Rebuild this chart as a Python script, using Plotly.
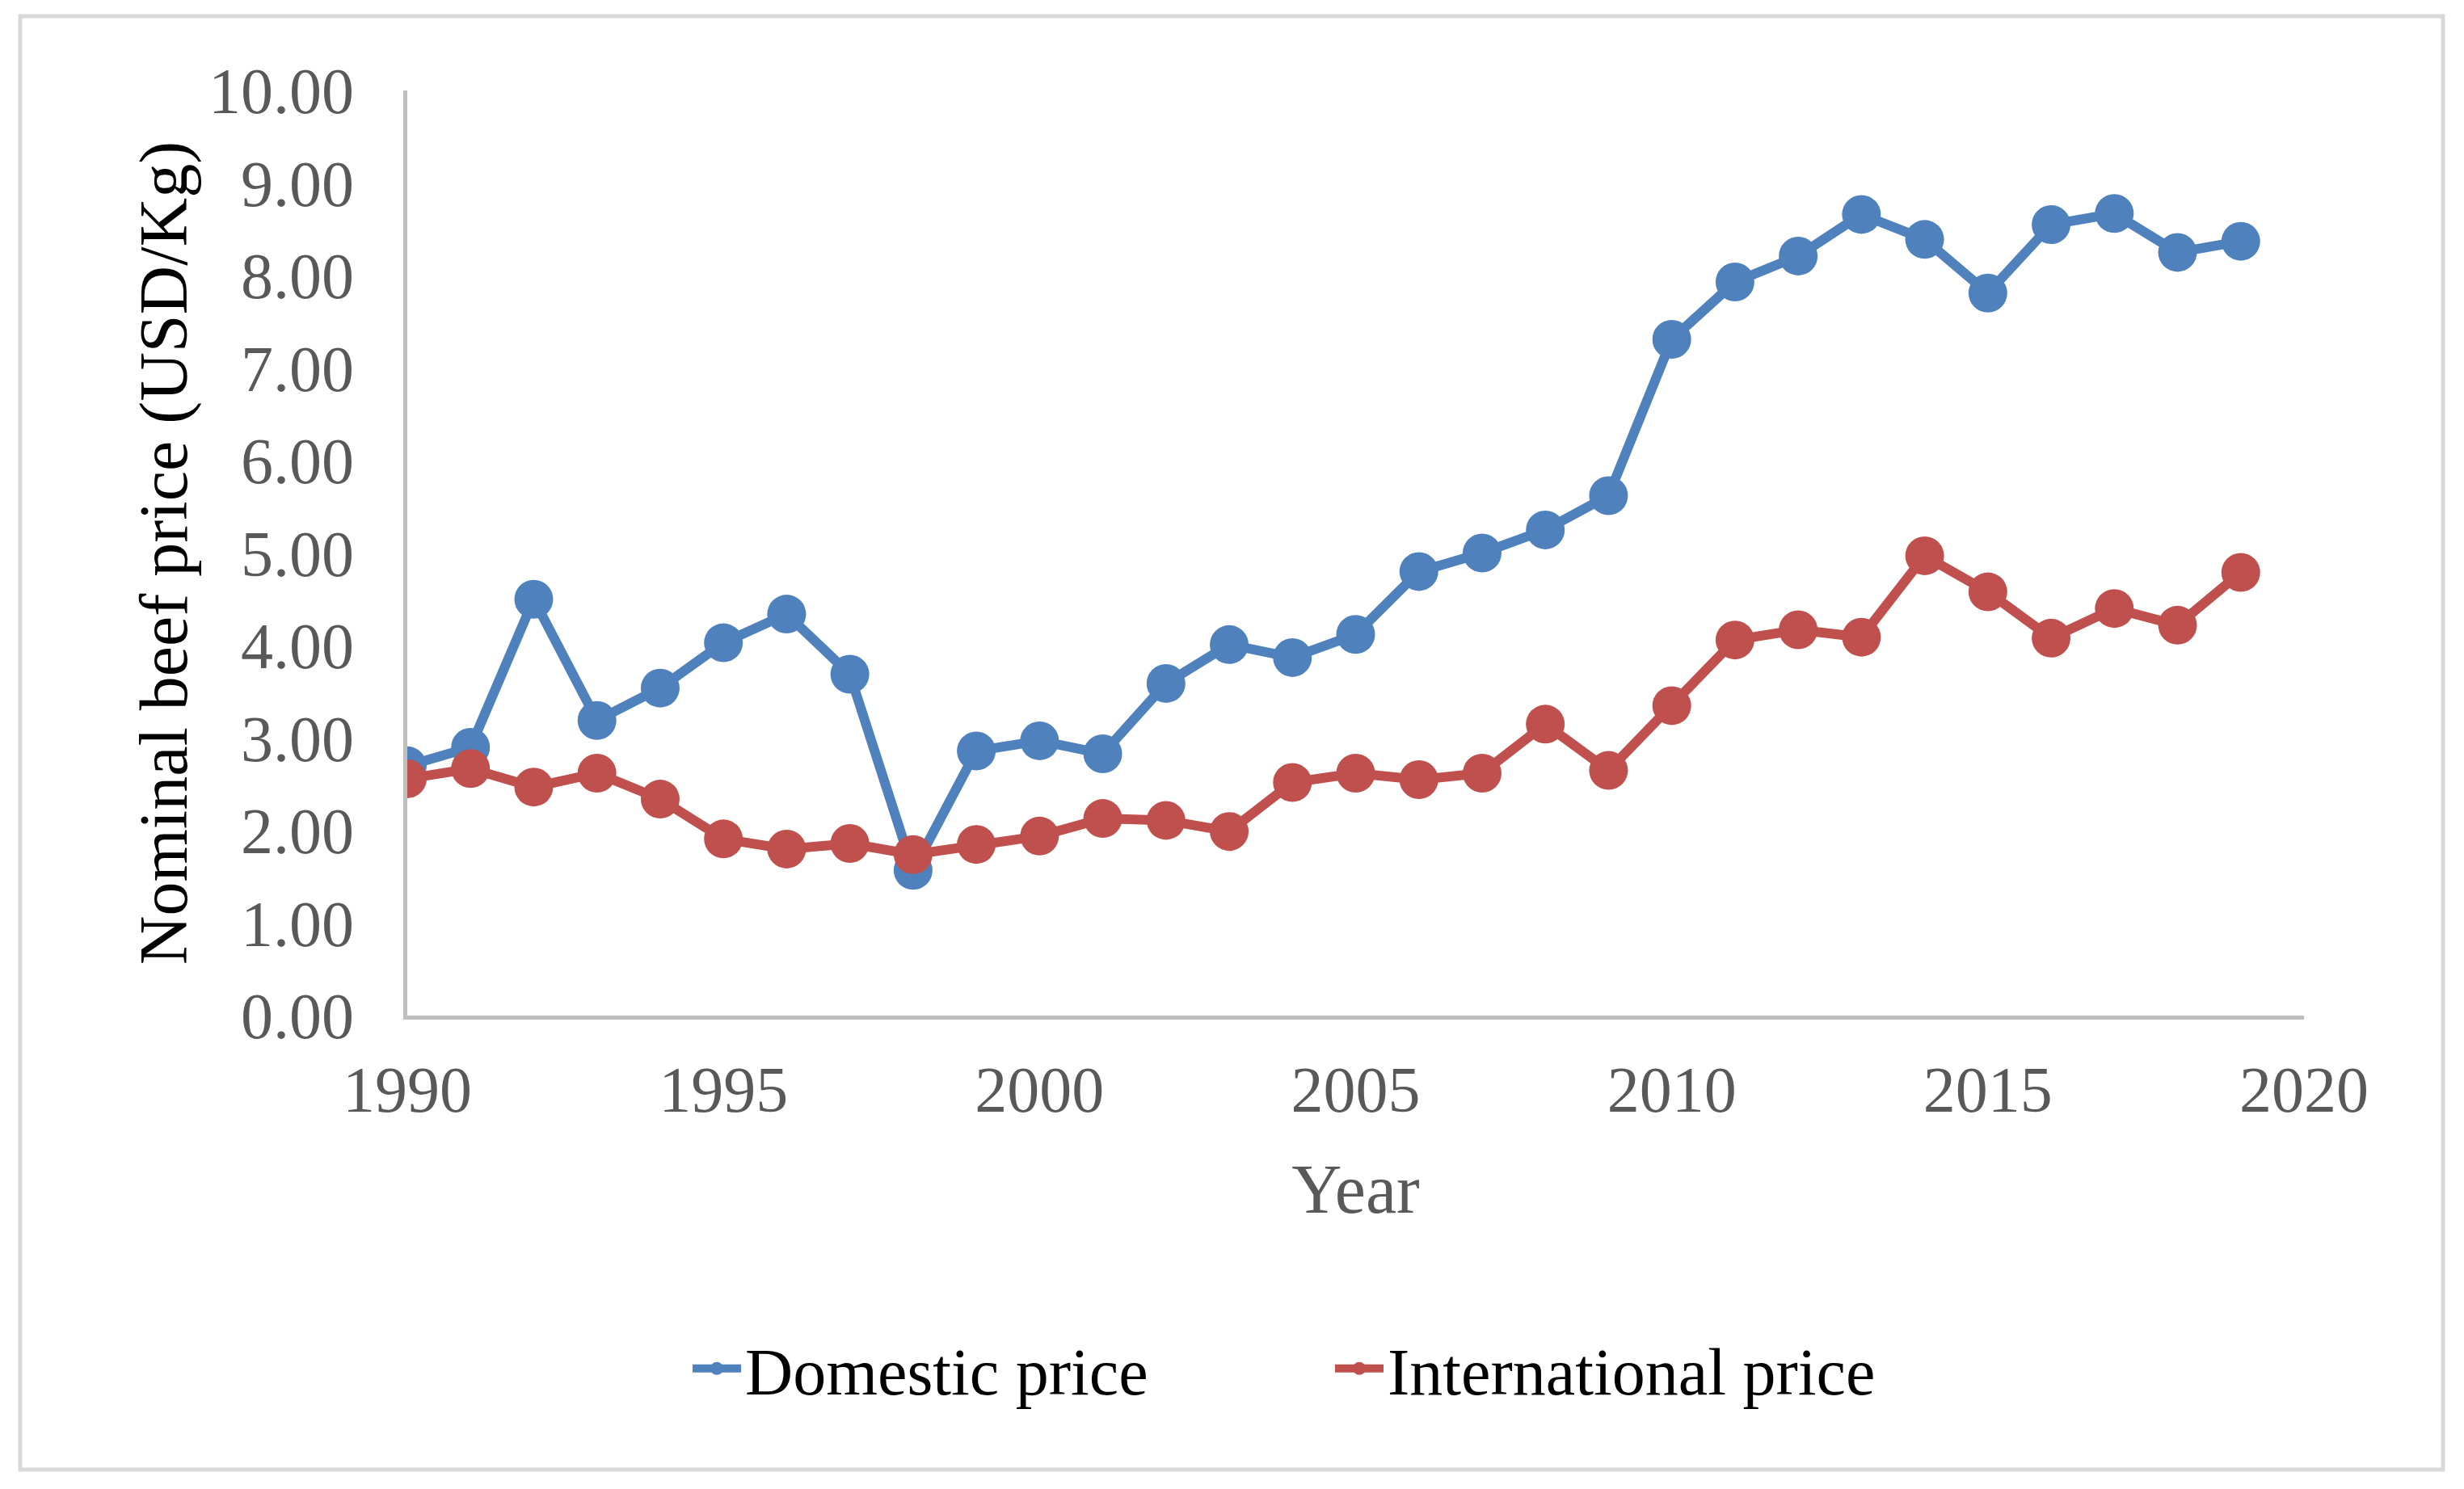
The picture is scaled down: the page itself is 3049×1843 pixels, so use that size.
import plotly.graph_objects as go

years = list(range(1990, 2020))
domestic = [2.70, 2.90, 4.50, 3.19, 3.54, 4.03, 4.34, 3.69, 1.57, 2.86,
            2.97, 2.83, 3.59, 4.01, 3.87, 4.12, 4.80, 5.00, 5.25, 5.62,
            7.31, 7.93, 8.21, 8.66, 8.39, 7.81, 8.55, 8.67, 8.25, 8.37]
international = [2.56, 2.67, 2.47, 2.62, 2.34, 1.91, 1.80, 1.86, 1.74, 1.85,
                 1.94, 2.13, 2.11, 1.99, 2.52, 2.62, 2.55, 2.62, 3.15, 2.65,
                 3.35, 4.06, 4.17, 4.09, 4.97, 4.58, 4.08, 4.40, 4.22, 4.79]
series_names = ["Domestic price", "International price"]
colors = ["#4F81BD", "#C0504D"]
y_ticks = [0, 1, 2, 3, 4, 5, 6, 7, 8, 9, 10]
y_tick_labels = [f"{v:.2f}" for v in y_ticks]
x_ticks = [1990, 1995, 2000, 2005, 2010, 2015, 2020]

# page offset (body margin) compensation
OFF = 8
W, H = 3049 - 2 * OFF, 1843 - 2 * OFF
ml, mt = 504 - OFF, 112 - OFF
mr = W - (2851 - OFF)
mb = H - (1257 - OFF)
pw, ph = W - ml - mr, H - mt - mb

FONT = "Liberation Serif"

fig = go.Figure()
for name, vals, col in zip(series_names, [domestic, international], colors):
    fig.add_trace(go.Scatter(
        x=years, y=vals, name=name, mode="lines+markers",
        line=dict(color=col, width=12),
        marker=dict(color=col, size=48),
    ))

def px_to_paper_x(px):
    return (px - OFF - ml) / pw

def px_to_paper_y(py):
    return (H - mb - (py - OFF)) / ph

fig.update_layout(
    width=W, height=H,
    margin=dict(l=ml, r=mr, t=mt, b=mb),
    paper_bgcolor="white", plot_bgcolor="white",
    font=dict(family=FONT, color="#595959", size=80),
    showlegend=True,
    legend=dict(orientation="h", x=0.487, xanchor="center",
                y=px_to_paper_y(1694), yanchor="middle",
                font=dict(family=FONT, size=82, color="black"),
                itemwidth=60, entrywidth=720),
    shapes=[dict(type="rect", xref="paper", yref="paper",
                 x0=px_to_paper_x(25), x1=px_to_paper_x(3023),
                 y0=px_to_paper_y(1819), y1=px_to_paper_y(20),
                 line=dict(color="#D9D9D9", width=5), layer="below")],
)
fig.update_xaxes(
    range=[1990, 2020], tickvals=x_ticks, showgrid=False, zeroline=False,
    showline=True, linecolor="#BFBFBF", linewidth=5,
    ticks="", ticklabelstandoff=18,
    tickfont=dict(family=FONT, size=80, color="#595959"),
    title=dict(text="Year", font=dict(family=FONT, size=86, color="#595959"), standoff=50),
)
fig.update_yaxes(
    range=[0, 10], tickvals=y_ticks, ticktext=y_tick_labels, showgrid=False,
    zeroline=False, showline=True, linecolor="#BFBFBF", linewidth=5,
    ticks="", ticklabelstandoff=45,
    tickfont=dict(family=FONT, size=80, color="#595959"),
    title=dict(text="Nominal beef price (USD/Kg)",
               font=dict(family=FONT, size=84, color="black"), standoff=0),
)

fig.write_html("out.html", config={"displayModeBar": False})
